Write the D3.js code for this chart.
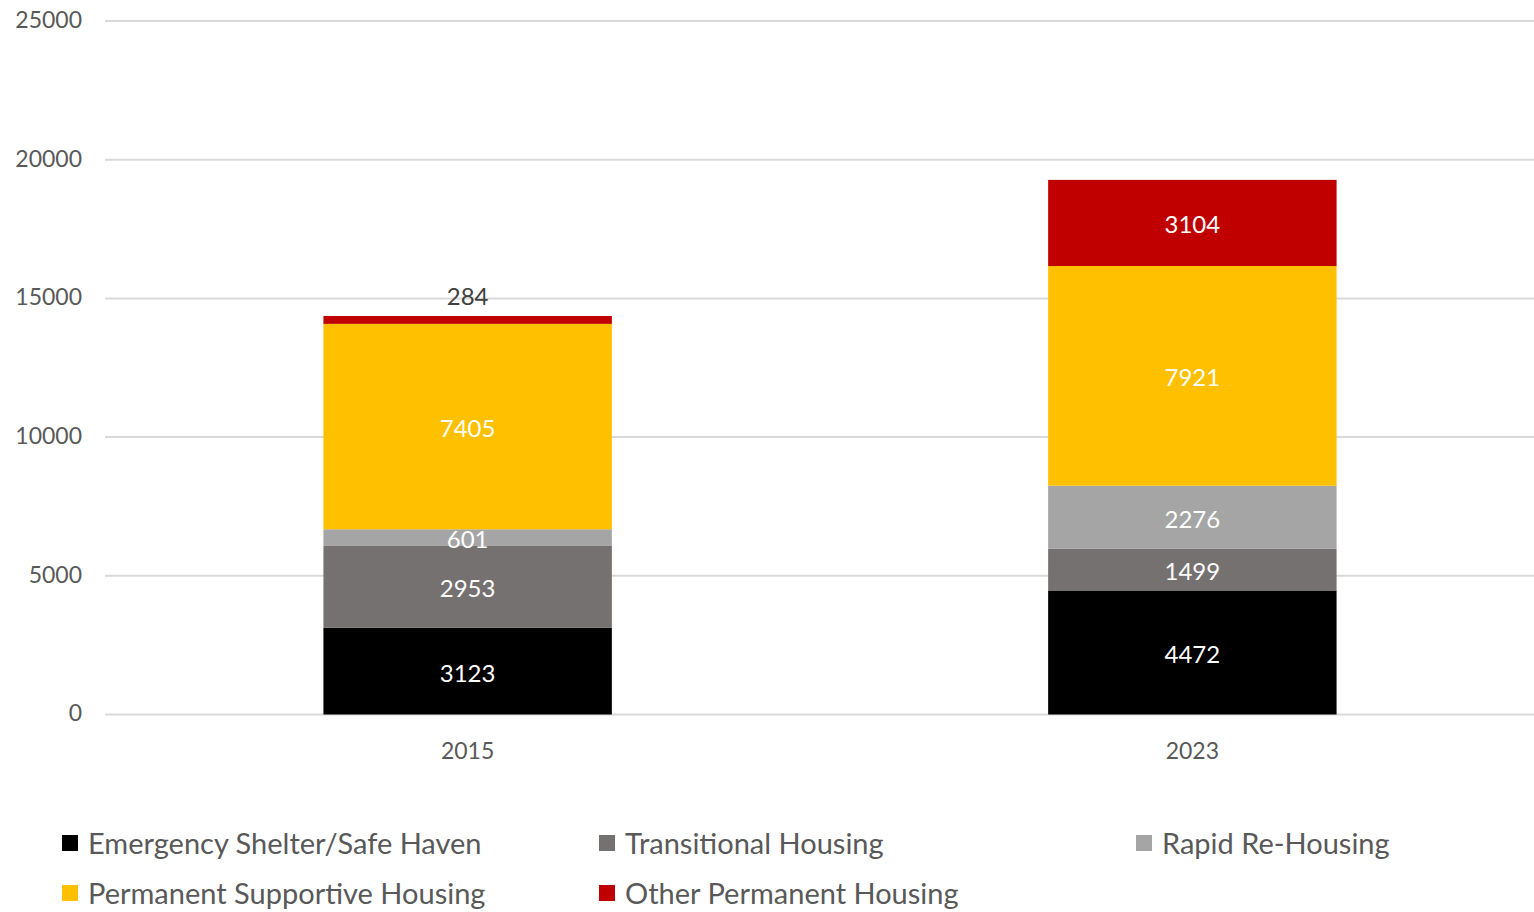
<!DOCTYPE html>
<html>
<head>
<meta charset="utf-8">
<script src="https://cdn.jsdelivr.net/npm/d3@7"></script>
<style>
  html, body { margin: 0; padding: 0; background: #fff; }
  svg { display: block; font-family: Lato, "Open Sans", sans-serif; }
</style>
</head>
<body>
<svg id="chart" width="1534" height="912"></svg>
<script>
// ---- data ----
const years = ['2015', '2023'];
const seriesNames = [
    'Emergency Shelter/Safe Haven',
    'Transitional Housing',
    'Rapid Re-Housing',
    'Permanent Supportive Housing',
    'Other Permanent Housing'
];
const seriesColors = ['#000000', '#767171', '#a5a5a5', '#ffc000', '#c00000'];
const emergency    = [3123, 4472];
const transitional = [2953, 1499];
const rapid        = [601, 2276];
const supportive   = [7405, 7921];
const otherPerm    = [284, 3104];
const yTicks = [0, 5000, 10000, 15000, 20000, 25000];

const seriesValues = [emergency, transitional, rapid, supportive, otherPerm];

// build rows for d3.stack
const rows = years.map((yr, i) => {
    const r = { year: yr };
    seriesNames.forEach((s, k) => { r[s] = seriesValues[k][i]; });
    return r;
});

const svg = d3.select('#chart');
const width = 1534;

const x = d3.scaleBand().domain(years).range([106, 1554])
    .paddingInner(0.602).paddingOuter(0.3);
const y = d3.scaleLinear().domain([0, 25000]).range([714.5, 21]);

// gridlines
svg.append('g').selectAll('line')
    .data(yTicks).enter()
    .append('line')
    .attr('x1', 105).attr('x2', width)
    .attr('y1', d => y(d)).attr('y2', d => y(d))
    .attr('stroke', '#d9d9d9').attr('stroke-width', 2);

// y axis labels
svg.append('g').selectAll('text')
    .data(yTicks).enter()
    .append('text')
    .attr('x', 82).attr('y', d => y(d))
    .attr('dy', '0.3em')
    .attr('text-anchor', 'end')
    .attr('font-size', '23px').attr('fill', '#595959')
    .text(d => d);

// x axis labels
svg.append('g').selectAll('text')
    .data(years).enter()
    .append('text')
    .attr('x', d => x(d) + x.bandwidth() / 2).attr('y', 751)
    .attr('dy', '0.35em')
    .attr('text-anchor', 'middle')
    .attr('font-size', '23px').attr('fill', '#595959')
    .text(d => d);

// stacked bars
const stacked = d3.stack().keys(seriesNames)(rows);

const layers = svg.append('g').selectAll('g')
    .data(stacked).enter()
    .append('g')
    .attr('fill', (d, i) => seriesColors[i]);

layers.selectAll('rect')
    .data(d => d).enter()
    .append('rect')
    .attr('x', d => x(d.data.year))
    .attr('width', x.bandwidth())
    .attr('y', d => y(d[1]))
    .attr('height', d => y(d[0]) - y(d[1]));

// data labels
const lastIdx = seriesNames.length - 1;
stacked.forEach((layer, k) => {
    layer.forEach(d => {
        const v = d[1] - d[0];
        const h = y(d[0]) - y(d[1]);
        const cx = x(d.data.year) + x.bandwidth() / 2;
        // thin top segment: label goes above the bar
        const outside = k === lastIdx && h < 20;
        svg.append('text')
            .attr('x', cx)
            .attr('y', outside ? y(d[1]) - 19 : (y(d[0]) + y(d[1])) / 2 + 2)
            .attr('dy', '0.35em')
            .attr('text-anchor', 'middle')
            .attr('font-size', '24px')
            .attr('fill', outside ? '#404040' : '#ffffff')
            .text(v);
    });
});

// legend
const legendPos = [
    [62, 843], [599, 843], [1136, 843],
    [62, 893], [599, 893]
];
const legend = svg.append('g').selectAll('g')
    .data(seriesNames).enter()
    .append('g')
    .attr('transform', (d, i) => `translate(${legendPos[i][0]},${legendPos[i][1]})`);

legend.append('rect')
    .attr('x', 0).attr('y', -8)
    .attr('width', 16).attr('height', 16)
    .attr('fill', (d, i) => seriesColors[i]);

legend.append('text')
    .attr('x', 26).attr('y', 1)
    .attr('dy', '0.35em')
    .attr('font-size', '29px').attr('fill', '#595959')
    .text(d => d);
</script>
</body>
</html>
